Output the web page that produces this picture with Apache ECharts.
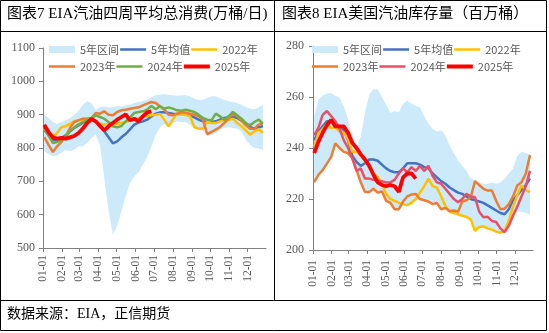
<!DOCTYPE html>
<html><head><meta charset="utf-8">
<script src="https://cdn.jsdelivr.net/npm/echarts@6/dist/echarts.min.js"></script>
<style>html,body{margin:0;padding:0;background:#fff}#c{width:549px;height:333px}</style>
</head><body><div id="c"></div>
<script>
// ---------- shared ----------
const YEAR = 2025;
const FIRST_WEEK_DAY = 2; // first weekly observation: 01-03 (day index 2)
const legendNames = ['5年区间', '5年均值', '2022年', '2023年', '2024年', '2025年'];

// ---------- chart 7: gasoline 4-week avg consumption (万桶/日) ----------
const consTitle = '图表7 EIA汽油四周平均总消费(万桶/日)';
const consYTicks = [500, 600, 700, 800, 900, 1000, 1100];
const consRangeLow = [790,782,775,778,785,795,790,795,805,805,815,830,840,808,710,612,540,565,610,655,695,715,727,750,772,805,840,862,872,862,875,880,878,878,870,858,855,852,835,838,845,855,860,862,860,858,850,825,810,800,798,795];
const consRangeHigh = [900,890,878,872,878,883,890,900,912,930,940,935,915,922,925,922,922,925,925,928,930,935,938,942,945,952,958,960,962,960,958,957,958,958,955,948,945,945,950,955,955,950,944,940,938,935,930,923,918,916,922,930];
const consAvg5 = [855,838,823,825,830,838,850,860,868,876,882,887,880,868,850,832,814,820,832,842,856,870,876,880,885,895,903,907,907,905,903,902,903,902,898,892,885,880,878,878,880,885,890,892,894,890,882,873,863,858,862,866];
const cons2022 = [858,842,835,845,862,866,872,880,883,885,888,885,878,873,870,872,875,873,875,878,883,886,890,893,896,898,900,902,885,865,885,905,903,900,895,863,858,858,880,875,875,880,883,885,888,875,865,853,840,850,857,845];
const cons2023 = [833,810,788,805,818,835,860,878,883,888,888,890,905,903,910,900,898,908,913,915,918,920,922,928,933,938,935,925,915,900,898,903,907,906,903,900,895,885,842,848,855,863,875,888,903,895,883,868,858,858,870,875];
const cons2024 = [863,838,815,818,825,833,850,862,870,878,882,888,898,893,888,878,865,862,866,880,892,905,908,910,915,926,916,925,918,922,918,913,912,915,912,908,900,890,885,883,903,895,885,895,908,898,888,875,868,878,885,873];
const cons2025 = [870,848,832,828,830,828,832,836,845,858,875,887,880,866,853,865,875,885,893,901,883,888,880,895,907,910];

// ---------- chart 8: US gasoline stocks (百万桶) ----------
const stockTitle = '图表8 EIA美国汽油库存量（百万桶）';
const stockYTicks = [200, 220, 240, 260, 280];
const stockRangeLow = [226,229,231,233.5,236,241.5,239.5,238,237.5,235.5,230.5,226,222.5,222.5,223.5,222,222.5,219,218,215.5,215.5,217.5,217,218,219.5,219.5,219,218.5,217.5,218,215.5,216,214.5,214,213.5,213,212.5,211.5,207,208.5,209,208,207.5,206.8,206.5,206.5,209,212,215,215,214.5,214];
const stockRangeHigh = [252.5,259,260.6,261.4,261.5,260.5,259.7,256.4,251,245,240.5,244.5,253.8,261,263,263,260,257,253.8,254.5,254,257.5,258.5,257.5,256.5,256,252.5,249.5,247.5,246.5,247,245,241,238,235,233,231,228,227.5,226.5,226,226,226.5,226,226.5,228,230,232,237,238.5,238,237.5];
const stockAvg5 = [243,246.5,248.5,250.5,250.5,249.5,248.5,247,243,237,234.5,233,234,235.5,235.5,235,233.5,232,231,230.5,230.5,232,234,234,234,233.5,232.5,232,230,228.5,227,226,224.5,223.5,222.5,222,221,220,219.5,219,218.5,217.5,216.5,215.5,214.5,214,216,219.5,221.5,223.5,225.5,228];
const stock2022 = [240.5,245.8,247.5,249.5,247.8,248,246.5,246,243.5,238.5,238.5,237.2,235,232.6,230,228.6,226,222,220,219.3,218.5,218,217.6,218.5,220,222.5,225,228,225,224.5,221,217.3,215,214.5,214,213.4,213,212,207.5,209,209.3,208.5,208,207.2,206.8,207.5,211.5,217,221.5,225.3,223.5,222.7];
const stock2023 = [226.6,229.5,231.3,233.9,236.5,241.8,240,238.5,238,236,231.3,226.6,222.7,222.7,224,222.5,223,219.3,218.5,216,216,219,221,221.8,222,220,219.5,219,218,218.5,216,216.5,215.3,215.5,215,219,219.5,220.7,227,225.5,224,223.3,223.3,219.3,216,216.2,218,221,225.3,226.6,229.9,237.2];
const stock2024 = [245,248,253,254.5,252.5,250.5,247.5,243,240,236,231,232,228,228,227.5,227.3,227,226.5,226.5,227.5,230,232,230.5,232.5,231,233,231,233,229,226.5,226,224,222,220,218.7,220,222,221,220.7,215,212.8,213,211.4,211,208.5,207,209.5,213.5,217,221,225,231];
const stock2025 = [238,242.5,246,249,251,248.5,248.5,248.5,246,242,240,237.5,235.5,233,229.5,226.5,225.5,225,225.5,225,222.8,228.5,230,230,228];

const footerText = '数据来源：EIA，正信期货';

// ---------- colours ----------
const C_BAND = '#cdeafb', C_AVG = '#4472c4', C_22 = '#ffc000', C_23 = '#ed7d31', C_24L = '#70ad47', C_24R = '#e85068', C_25 = '#ff0000';

// ---------- build day categories ----------
const days = [];
for (let d = new Date(Date.UTC(YEAR, 0, 1)); d.getUTCFullYear() === YEAR; d.setUTCDate(d.getUTCDate() + 1)) {
  days.push(String(d.getUTCMonth() + 1).padStart(2, '0') + '-' + String(d.getUTCDate()).padStart(2, '0'));
}
const weekly = arr => arr.map((v, i) => [FIRST_WEEK_DAY + 7 * i, v]);
const diff = (hi, lo) => hi.map((v, i) => [FIRST_WEEK_DAY + 7 * i, +(v - lo[i]).toFixed(2)]);
const isMonthStart = (i, v) => v.slice(3) === '01';

const serif = 'Liberation Serif';
const cjk = '"Liberation Serif","Noto Sans CJK SC"';

function xAxis(gridIndex, margin) {
  return {
    type: 'category', gridIndex, data: days, boundaryGap: false,
    axisLine: { lineStyle: { color: '#808080', width: 1 } },
    axisTick: { interval: isMonthStart, length: 4, lineStyle: { color: '#808080' } },
    axisLabel: { interval: isMonthStart, rotate: 90, margin, fontFamily: serif, fontSize: 11.5, color: '#595959' },
    splitLine: { show: false }
  };
}
function yAxis(gridIndex, ticks, margin) {
  return {
    type: 'value', gridIndex, min: ticks[0], max: ticks[ticks.length - 1], interval: ticks[1] - ticks[0],
    axisLine: { show: true, lineStyle: { color: '#808080', width: 1 } },
    axisTick: { show: true, length: 4, lineStyle: { color: '#808080' } },
    axisLabel: { margin, fontFamily: serif, fontSize: 12, color: '#595959', formatter: v => String(v) },
    splitLine: { show: false }
  };
}
function line(name, data, color, idx, width, z) {
  return { type: 'line', name, data: weekly(data), xAxisIndex: idx, yAxisIndex: idx, showSymbol: false, symbol: 'none',
    lineStyle: { color, width: width || 2.5 }, itemStyle: { color }, z: z || 3, silent: true };
}
function band(lo, hi, idx) {
  const st = 'band' + idx;
  return [
    { type: 'line', name: 'bandBase' + idx, data: weekly(lo), stack: st, xAxisIndex: idx, yAxisIndex: idx, showSymbol: false, symbol: 'none',
      lineStyle: { opacity: 0 }, silent: true, z: 1 },
    { type: 'line', name: '5年区间', data: diff(hi, lo), stack: st, xAxisIndex: idx, yAxisIndex: idx, showSymbol: false, symbol: 'none',
      lineStyle: { opacity: 0 }, areaStyle: { color: C_BAND, opacity: 1 }, itemStyle: { color: C_BAND }, silent: true, z: 1 }
  ];
}
const lineIcon = 'path://M0,0H26V2.5H0Z', redIcon = 'path://M0,0H26V4H0Z', areaIcon = 'path://M0,0H26V7H0Z';
function legendRow(left, top, items) {
  return {
    left, top, orient: 'horizontal', itemWidth: 26, itemHeight: 8, itemGap: 1, padding: 0, symbolKeepAspect: true,
    selectedMode: false,
    textStyle: { fontSize: 11, color: '#595959', fontFamily: 'Noto Sans CJK SC', width: 40 },
    data: items.map(([name, color, icon]) => ({ name, icon, itemStyle: { color, borderWidth: 0 } }))
  };
}

const chart = echarts.init(document.getElementById('c'), null, { renderer: 'canvas' });
chart.setOption({
  animation: false,
  backgroundColor: '#fff',
  grid: [
    { left: 43, top: 48, width: 223, height: 200 },
    { left: 313, top: 46, width: 220, height: 204 }
  ],
  xAxis: [xAxis(0, 7), xAxis(1, 10)],
  yAxis: [yAxis(0, consYTicks, 8), yAxis(1, stockYTicks, 9)],
  legend: [
    legendRow(49, 44, [[legendNames[0], C_BAND, areaIcon], [legendNames[1], C_AVG, lineIcon], [legendNames[2], C_22, lineIcon]]),
    legendRow(49, 61, [[legendNames[3], C_23, lineIcon], [legendNames[4], C_24L, lineIcon], [legendNames[5], C_25, redIcon]]),
    legendRow(312, 44, [[legendNames[0], C_BAND, areaIcon], [legendNames[1], C_AVG, lineIcon], [legendNames[2], C_22, lineIcon]]),
    legendRow(312, 61, [[legendNames[3], C_23, lineIcon], [legendNames[4], C_24R, lineIcon], [legendNames[5], C_25, redIcon]])
  ],
  series: [
    ...band(consRangeLow, consRangeHigh, 0),
    line('5年均值', consAvg5, C_AVG, 0),
    line('2022年', cons2022, C_22, 0),
    line('2023年', cons2023, C_23, 0),
    line('2024年', cons2024, C_24L, 0),
    line('2025年', cons2025, C_25, 0, 3.8, 5),
    ...band(stockRangeLow, stockRangeHigh, 1),
    line('5年均值', stockAvg5, C_AVG, 1),
    line('2022年', stock2022, C_22, 1),
    line('2023年', stock2023, C_23, 1),
    line('2024年', stock2024, C_24R, 1),
    line('2025年', stock2025, C_25, 1, 3.8, 5)
  ],
  graphic: [
    { type: 'rect', shape: { x: 0.5, y: 0.5, width: 546, height: 330 }, style: { fill: 'none', stroke: '#000', lineWidth: 1 }, silent: true },
    { type: 'line', shape: { x1: 0, y1: 31.5, x2: 547, y2: 31.5 }, style: { stroke: '#000', lineWidth: 1 }, silent: true },
    { type: 'line', shape: { x1: 0, y1: 300.5, x2: 547, y2: 300.5 }, style: { stroke: '#000', lineWidth: 1 }, silent: true },
    { type: 'line', shape: { x1: 274.5, y1: 0, x2: 274.5, y2: 300.5 }, style: { stroke: '#000', lineWidth: 1 }, silent: true },
    { type: 'text', left: 7, top: 7, style: { text: consTitle, fontSize: 15, fontFamily: cjk, fill: '#000' }, silent: true },
    { type: 'text', left: 282, top: 7, style: { text: stockTitle, fontSize: 15, fontFamily: cjk, fill: '#000' }, silent: true },
    { type: 'text', left: 7, top: 307, style: { text: footerText, fontSize: 14, fontFamily: cjk, fill: '#000' }, silent: true }
  ]
});
</script>
</body></html>
